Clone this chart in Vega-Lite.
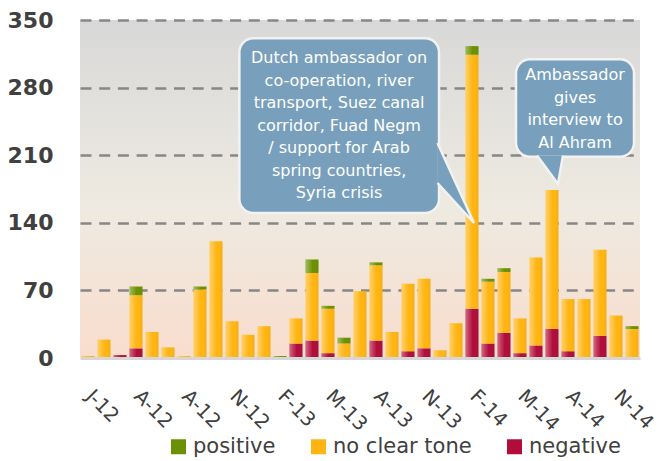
{
  "$schema": "https://vega.github.io/schema/vega-lite/v6.json",
  "width": 560,
  "height": 338,
  "autosize": {"type": "none"},
  "padding": {"left": 80, "top": 20, "right": 18, "bottom": 103},
  "background": "white",
  "view": {
    "stroke": null,
    "fill": {
      "gradient": "linear", "x1": 0, "y1": 0, "x2": 0, "y2": 1,
      "stops": [
        {"offset": 0, "color": "#d8d8d8"},
        {"offset": 0.55, "color": "#eeeae1"},
        {"offset": 1, "color": "#f9ddcd"}
      ]
    }
  },
  "config": {"font": "DejaVu Sans"},
  "data": {
    "values": [
      {"month": "Jan-12", "negative": 0, "no clear tone": 2, "positive": 0},
      {"month": "Feb-12", "negative": 0, "no clear tone": 19, "positive": 0},
      {"month": "Mar-12", "negative": 3, "no clear tone": 0, "positive": 0},
      {"month": "Apr-12", "negative": 10, "no clear tone": 55, "positive": 9},
      {"month": "May-12", "negative": 0, "no clear tone": 27, "positive": 0},
      {"month": "Jun-12", "negative": 0, "no clear tone": 11, "positive": 0},
      {"month": "Aug-12", "negative": 0, "no clear tone": 2, "positive": 0},
      {"month": "Sep-12", "negative": 1, "no clear tone": 70, "positive": 3},
      {"month": "Oct-12", "negative": 0, "no clear tone": 121, "positive": 0},
      {"month": "Nov-12", "negative": 0, "no clear tone": 38, "positive": 0},
      {"month": "Dec-12", "negative": 0, "no clear tone": 24, "positive": 0},
      {"month": "Jan-13", "negative": 0, "no clear tone": 33, "positive": 0},
      {"month": "Feb-13", "negative": 0, "no clear tone": 0, "positive": 2},
      {"month": "Mar-13", "negative": 15, "no clear tone": 26, "positive": 0},
      {"month": "Apr-13", "negative": 18, "no clear tone": 70, "positive": 14},
      {"month": "May-13", "negative": 5, "no clear tone": 46, "positive": 3},
      {"month": "Jun-13", "negative": 0, "no clear tone": 15, "positive": 6},
      {"month": "Jul-13", "negative": 1, "no clear tone": 68, "positive": 0},
      {"month": "Aug-13", "negative": 18, "no clear tone": 78, "positive": 3},
      {"month": "Sep-13", "negative": 1, "no clear tone": 26, "positive": 0},
      {"month": "Oct-13", "negative": 7, "no clear tone": 70, "positive": 0},
      {"month": "Nov-13", "negative": 10, "no clear tone": 72, "positive": 0},
      {"month": "Dec-13", "negative": 1, "no clear tone": 7, "positive": 0},
      {"month": "Jan-14", "negative": 0, "no clear tone": 36, "positive": 0},
      {"month": "Feb-14", "negative": 51, "no clear tone": 263, "positive": 9},
      {"month": "Mar-14", "negative": 15, "no clear tone": 64, "positive": 3},
      {"month": "Apr-14", "negative": 26, "no clear tone": 63, "positive": 4},
      {"month": "May-14", "negative": 5, "no clear tone": 36, "positive": 0},
      {"month": "Jun-14", "negative": 13, "no clear tone": 91, "positive": 0},
      {"month": "Jul-14", "negative": 30, "no clear tone": 144, "positive": 0},
      {"month": "Aug-14", "negative": 7, "no clear tone": 54, "positive": 0},
      {"month": "Sep-14", "negative": 0, "no clear tone": 61, "positive": 0},
      {"month": "Oct-14", "negative": 23, "no clear tone": 89, "positive": 0},
      {"month": "Nov-14", "negative": 1, "no clear tone": 43, "positive": 0},
      {"month": "Dec-14", "negative": 0, "no clear tone": 30, "positive": 3}
    ]
  },
  "layer": [
    {
      "transform": [{"fold": ["negative", "no clear tone", "positive"], "as": ["tone", "count"]}],
      "mark": {"type": "bar"},
      "encoding": {
        "x": {
          "field": "month", "type": "ordinal", "sort": null,
          "scale": {"paddingInner": 0.1875, "paddingOuter": 0.094},
          "axis": {
            "title": null,
            "values": ["Jan-12", "Apr-12", "Aug-12", "Nov-12", "Feb-13", "May-13", "Aug-13", "Nov-13", "Feb-14", "May-14", "Aug-14", "Nov-14"],
            "labelExpr": "slice(datum.value,0,1)+'-'+slice(datum.value,4)",
            "labelAngle": 45,
            "labelAlign": "left",
            "labelBaseline": "alphabetic",
            "labelPadding": 39,
            "labelOffset": -3,
            "labelFontSize": 19.5,
            "labelColor": "#404040",
            "labelBound": false,
            "labelOverlap": false,
            "labelFlush": false,
            "ticks": false,
            "domain": true,
            "domainColor": "#d6d6d6",
            "domainWidth": 3,
            "zindex": 1
          }
        },
        "y": {
          "field": "count", "type": "quantitative", "stack": "zero",
          "scale": {"domain": [0, 350], "nice": false},
          "axis": {
            "title": null,
            "values": [0, 70, 140, 210, 280, 350],
            "domain": false,
            "ticks": false,
            "labelFontSize": 22,
            "labelFontWeight": "bold",
            "labelColor": "#404040",
            "labelPadding": 27,
            "grid": true,
            "gridColor": {"condition": {"test": "datum.value === 0", "value": "transparent"}, "value": "#878787"},
            "gridDash": [11, 7.7],
            "gridWidth": 2.6
          }
        },
        "color": {
          "field": "tone", "type": "nominal",
          "scale": {"domain": ["positive", "no clear tone", "negative"], "range": ["#6b9100", "#ffb511", "#b10d3a"]},
          "legend": {
            "title": null,
            "orient": "none",
            "legendX": 88,
            "legendY": 416,
            "direction": "horizontal",
            "symbolType": "square",
            "symbolSize": 225,
            "symbolStrokeWidth": 0,
            "symbolOpacity": 1,
            "labelFontSize": 21,
            "labelColor": "#404040",
            "labelOffset": 4,
            "columnPadding": 32,
            "padding": 0
          }
        },
        "order": {"field": "tone", "sort": "ascending"}
      }
    },
    {
      "transform": [{"fold": ["negative", "no clear tone", "positive"], "as": ["tone", "count"]}],
      "mark": {
        "type": "bar",
        "color": {
          "gradient": "linear", "x1": 0, "y1": 0, "x2": 1, "y2": 0,
          "stops": [
            {"offset": 0, "color": "rgba(255,255,255,0.38)"},
            {"offset": 0.55, "color": "rgba(255,255,255,0)"},
            {"offset": 1, "color": "rgba(0,0,0,0.04)"}
          ]
        }
      },
      "encoding": {
        "x": {"field": "month", "type": "ordinal", "sort": null, "scale": {"paddingInner": 0.1875, "paddingOuter": 0.094}, "axis": null},
        "y": {"field": "count", "type": "quantitative", "stack": "zero"},
        "detail": {"field": "tone"},
        "order": {"field": "tone", "sort": "ascending"}
      }
    },
    {
      "data": {"values": [{}]},
      "layer": [
        {
          "mark": {"type": "rect", "cornerRadius": 14, "fill": "#78a0bc", "stroke": "#f2f2f2", "strokeWidth": 2.5},
          "encoding": {
            "x": {"datum": 9.46, "type": "quantitative", "scale": {"domain": [-0.5, 34.5], "nice": false, "zero": false}, "axis": null},
            "x2": {"datum": 21.94},
            "y": {"datum": 331, "type": "quantitative"},
            "y2": {"datum": 150.1}
          }
        },
        {
          "mark": {"type": "point", "shape": "M -0.73 -1.6 L 0 0 L -0.73 -0.8", "size": 10000, "filled": true, "fill": "#78a0bc", "stroke": "#f2f2f2", "strokeWidth": 2.5, "opacity": 1},
          "encoding": {
            "x": {"datum": 24.125, "type": "quantitative", "axis": null},
            "y": {"datum": 139.8, "type": "quantitative"}
          }
        },
        {
          "mark": {"type": "text", "align": "center", "baseline": "middle", "fontSize": 16, "lineHeight": 22.5, "color": "white", "font": "DejaVu Sans"},
          "encoding": {
            "x": {"datum": 15.69, "type": "quantitative", "axis": null},
            "y": {"datum": 310.3, "type": "quantitative"},
            "text": {"value": ["Dutch ambassador on", "co-operation, river", "transport, Suez canal", "corridor, Fuad Negm", "/ support for Arab", "spring countries,", "Syria crisis"]}
          }
        },
        {
          "mark": {"type": "rect", "cornerRadius": 14, "fill": "#78a0bc", "stroke": "#f2f2f2", "strokeWidth": 2.5},
          "encoding": {
            "x": {"datum": 26.75, "type": "quantitative", "axis": null},
            "x2": {"datum": 34.125},
            "y": {"datum": 309.3, "type": "quantitative"},
            "y2": {"datum": 208.4}
          }
        },
        {
          "mark": {"type": "point", "shape": "M -0.42 -0.57 L 0 0 L 0.1 -0.57", "size": 10000, "filled": true, "fill": "#78a0bc", "stroke": "#f2f2f2", "strokeWidth": 2.5, "opacity": 1},
          "encoding": {
            "x": {"datum": 29.375, "type": "quantitative", "axis": null},
            "y": {"datum": 180.2, "type": "quantitative"}
          }
        },
        {
          "mark": {"type": "text", "align": "center", "baseline": "middle", "fontSize": 16, "lineHeight": 22.5, "color": "white", "font": "DejaVu Sans"},
          "encoding": {
            "x": {"datum": 30.44, "type": "quantitative", "axis": null},
            "y": {"datum": 293.0, "type": "quantitative"},
            "text": {"value": ["Ambassador", "gives", "interview to", "Al Ahram"]}
          }
        }
      ]
    }
  ],
  "resolve": {"scale": {"x": "independent"}}
}
